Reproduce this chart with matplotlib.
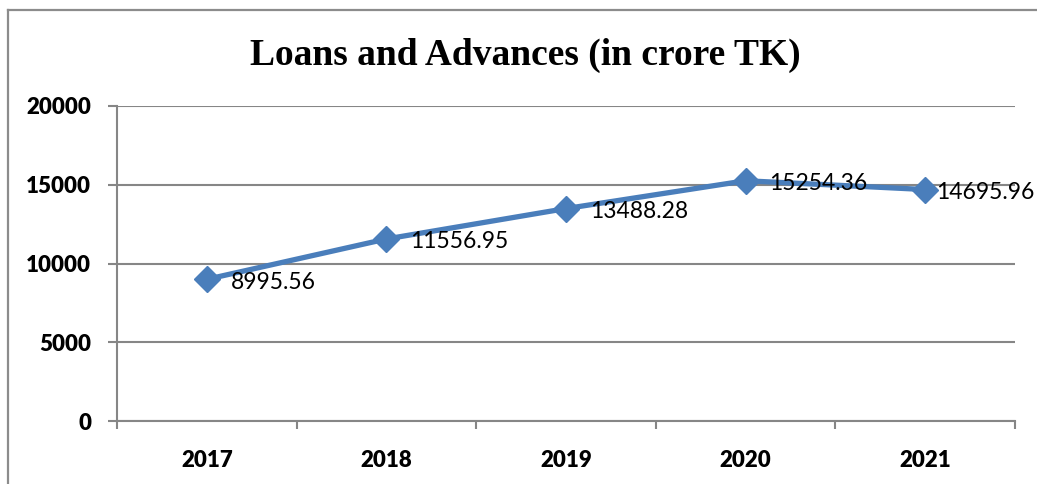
import matplotlib
matplotlib.use("Agg")
import matplotlib.pyplot as plt
from matplotlib.lines import Line2D

years = ["2017", "2018", "2019", "2020", "2021"]
values = [8995.56, 11556.95, 13488.28, 15254.36, 14695.96]
value_labels = ["8995.56", "11556.95", "13488.28", "15254.36", "14695.96"]
y_ticks = [0, 5000, 10000, 15000, 20000]
title = "Loans and Advances (in crore TK)"

W, H = 1037, 484
fig = plt.figure(figsize=(W / 100, H / 100), dpi=100)
fig.patch.set_facecolor("white")

ax = fig.add_axes([117 / W, 1 - 421 / H, (1015 - 117) / W, (421 - 106) / H])

grey = "#868686"
x = list(range(len(years)))
ax.plot(x, values, color="#4A7EBB", linewidth=3.8, marker="D", markersize=13,
        markeredgecolor="#4A7EBB", markerfacecolor="#4A7EBB", zorder=5, clip_on=False)

for i, (xi, v, lab) in enumerate(zip(x, values, value_labels)):
    dx = 8 if i == len(years) - 1 else 17
    ax.annotate(lab, (xi, v), xytext=(dx, -2), textcoords="offset points",
                ha="left", va="center", fontsize=16.5, family="Lato", color="black",
                zorder=6, annotation_clip=False)

ax.set_xlim(-0.5, len(years) - 0.5)
ax.set_ylim(0, 20000)
ax.set_yticks(y_ticks)
ax.set_yticklabels([str(t) for t in y_ticks], fontsize=16, fontweight="heavy", family="Lato")
ax.set_xticks(x)
ax.set_xticklabels(years, fontsize=16, fontweight="heavy", family="Lato")
ax.set_xticks([i - 0.5 for i in range(len(years) + 1)], minor=True)

ax.tick_params(axis="x", which="major", length=0, pad=21)
ax.tick_params(axis="x", which="minor", length=5.5, width=1.5, color=grey, direction="out")
ax.tick_params(axis="y", which="major", length=6.5, width=1.5, color=grey, pad=12)

ax.grid(axis="y", color=grey, linewidth=1.5)
ax.set_axisbelow(True)
for s in ["top", "right"]:
    ax.spines[s].set_visible(False)
for s in ["left", "bottom"]:
    ax.spines[s].set_color(grey)
    ax.spines[s].set_linewidth(1.5)

fig.text(525 / W, 1 - 55 / H, title, ha="center", va="center", fontsize=27,
         fontweight="bold", family="Liberation Serif")

# chart border (partially visible)
fig.add_artist(Line2D([8 / W, 8 / W], [0, 1 - 10 / H], transform=fig.transFigure,
                      color="#8c8c8c", linewidth=1.6))
fig.add_artist(Line2D([8 / W, 1], [1 - 10 / H, 1 - 10 / H], transform=fig.transFigure,
                      color="#8c8c8c", linewidth=1.6))

fig.savefig("out.png", dpi=100, facecolor="white")
